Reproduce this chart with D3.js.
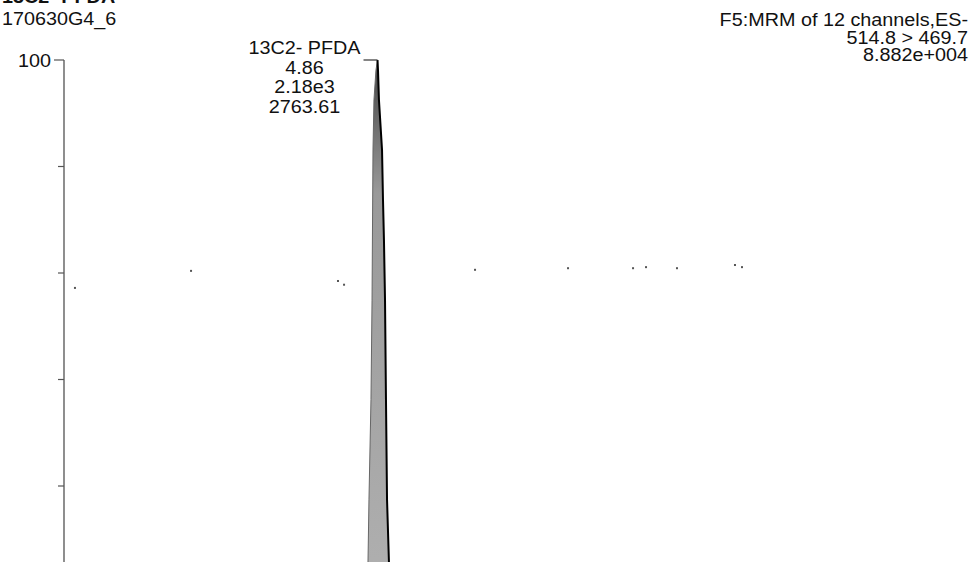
<!DOCTYPE html>
<html><head><meta charset="utf-8">
<script src="https://cdn.jsdelivr.net/npm/d3@7"></script>
<style>
html,body{margin:0;padding:0;background:#fff;}
svg text{font-family:Arial,"Liberation Sans",sans-serif;fill:#111;}
</style></head>
<body><svg id="c" width="976" height="562"></svg>
<script>
// ---- data ----
const titleText = "13C2- PFDA";
const sampleText = "170630G4_6";
const headerLines = ["F5:MRM of 12 channels,ES-", "514.8 > 469.7", "8.882e+004"];
const peakLabel = ["13C2- PFDA", "4.86", "2.18e3", "2763.61"];
const peakApexTime = 4.86;
const yTicks = [0, 20, 40, 60, 80, 100];
const yTickLabels = ["", "", "", "", "", "100"];
// peak trace (time in min, relative intensity %)
const peakTime = [4.745, 4.761, 4.771, 4.792, 4.803, 4.813, 4.823, 4.844, 4.86,
                  4.865, 4.875, 4.907, 4.917, 4.927, 4.938, 4.948, 4.959, 4.979, 4.990];
const peakInt  = [0, 5.7, 17.4, 36.2, 54.9, 83.1, 92.5, 98.1, 100,
                  98.1, 92.5, 83.1, 73.7, 66.2, 54.9, 36.2, 17.4, 5.7, 0];
// isolated noise points
const noiseTime = [1.714, 2.921, 4.449, 4.512, 5.874, 6.841, 7.517, 7.652, 7.974, 8.577, 8.650];
const noiseInt  = [57.2, 60.4, 58.5, 57.8, 60.6, 60.9, 60.9, 61.1, 60.9, 61.5, 61.1];

// ---- drawing ----
const svg = d3.select("#c");
const x = d3.scaleLinear().domain([1.6, 11.0]).range([64, 968]);
const y = d3.scaleLinear().domain([0, 100]).range([592.5, 60]);
const FS = 17.5, STRETCH = 1.13;
function stretch(sel) {
  sel.each(function () {
    const w = this.getComputedTextLength();
    if (w > 0) d3.select(this).attr("textLength", w * STRETCH).attr("lengthAdjust", "spacingAndGlyphs");
  });
}

// headers
svg.append("text").attr("x", 2).attr("y", 2.5).attr("font-size", FS).attr("font-weight", "bold").text(titleText).call(stretch);
svg.append("text").attr("x", 2).attr("y", 24.5).attr("font-size", FS).text(sampleText).call(stretch);
svg.selectAll("text.hdr").data(headerLines).join("text").attr("class", "hdr")
  .attr("x", 968).attr("y", (d, i) => 26 + i * 17.5).attr("text-anchor", "end")
  .attr("font-size", FS).text(d => d).call(stretch);

// y axis
const axisG = svg.append("g").attr("transform", "translate(64,0)");
axisG.append("line").attr("x1", 0).attr("x2", 0).attr("y1", y(100)).attr("y2", 600)
  .attr("stroke", "#444").attr("stroke-width", 1.2);
axisG.selectAll("line.tk").data(yTicks).join("line").attr("class", "tk")
  .attr("x1", (d, i) => yTickLabels[i] ? -10 : -6).attr("x2", 0)
  .attr("y1", d => y(d)).attr("y2", d => y(d))
  .attr("stroke", "#555").attr("stroke-width", 1.2);
axisG.selectAll("text.tl").data(yTicks).join("text").attr("class", "tl")
  .attr("x", -13).attr("y", d => y(d) + 6.5).attr("text-anchor", "end")
  .attr("font-size", FS).text((d, i) => yTickLabels[i]).call(stretch);

// peak
const pts = peakTime.map((t, i) => [t, peakInt[i]]);
const area = d3.area().x(d => x(d[0])).y0(y(0)).y1(d => y(d[1]));
const defs = svg.append("defs");
const grad = defs.append("linearGradient").attr("id", "pg").attr("x1", 0).attr("x2", 0).attr("y1", 0).attr("y2", 1);
grad.append("stop").attr("offset", "0%").attr("stop-color", "#444");
grad.append("stop").attr("offset", "25%").attr("stop-color", "#999");
grad.append("stop").attr("offset", "100%").attr("stop-color", "#b0b0b0");
svg.append("path").datum(pts).attr("d", area).attr("fill", "url(#pg)").attr("stroke", "none");
const line = d3.line().x(d => x(d[0])).y(d => y(d[1]));
const apexIdx = peakInt.indexOf(100);
svg.append("path").datum(pts.slice(0, apexIdx + 1)).attr("d", line)
  .attr("fill", "none").attr("stroke", "#666").attr("stroke-width", 1);
svg.append("path").datum(pts.slice(apexIdx)).attr("d", line)
  .attr("fill", "none").attr("stroke", "#000").attr("stroke-width", 2);

// peak label + leader
const ax = x(peakApexTime), ay = y(100);
svg.append("line").attr("x1", ax - 14).attr("x2", ax).attr("y1", ay).attr("y2", ay)
  .attr("stroke", "#333").attr("stroke-width", 1.2);
svg.selectAll("text.pl").data(peakLabel).join("text").attr("class", "pl")
  .attr("x", ax - 73).attr("y", (d, i) => 54 + i * 19.5).attr("text-anchor", "middle")
  .attr("font-size", FS).text(d => d).call(stretch);

// noise points
svg.selectAll("rect.nz").data(noiseTime).join("rect").attr("class", "nz")
  .attr("x", d => x(d) - 1).attr("y", (d, i) => y(noiseInt[i]) - 1)
  .attr("width", 2).attr("height", 2).attr("fill", "#555");
</script></body></html>
